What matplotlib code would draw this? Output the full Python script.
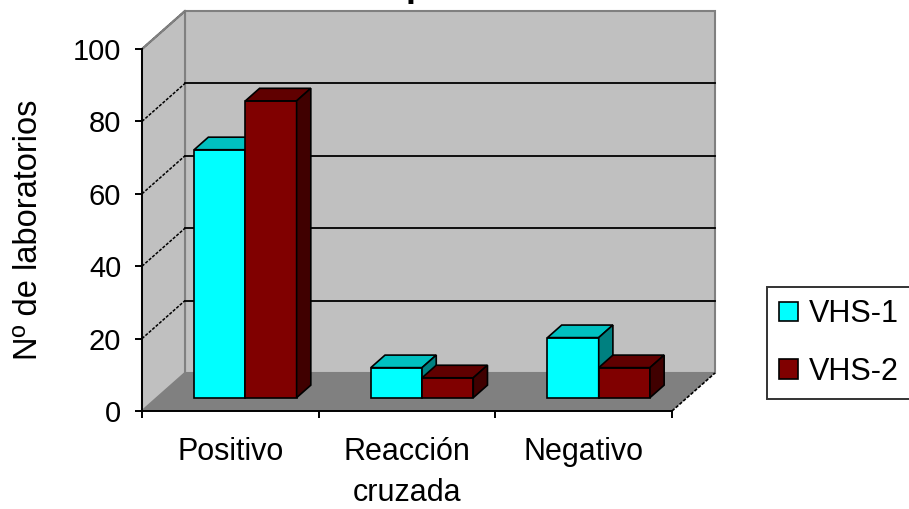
import numpy as np
import matplotlib
matplotlib.use("Agg")
import matplotlib.pyplot as plt
from matplotlib.patches import Polygon
from matplotlib import font_manager

# Data
categories = ["Positivo", "Reacción\ncruzada", "Negativo"]
series_names = ["VHS-1", "VHS-2"]
vhs1 = [68.5, 8.3, 16.6]
vhs2 = [82.0, 5.5, 8.3]
y_ticks = [0, 20, 40, 60, 80, 100]

# Excel-like 3D colours: front, top, side
FACES = {
    "VHS-1": ("#00FFFF", "#00C0C0", "#008080"),
    "VHS-2": ("#800000", "#600000", "#400000"),
}
WALL = "#C0C0C0"
FLOOR = "#808080"
EDGE = "#808080"

# Oblique depth offset (in data units) for one full unit of depth
DX, DY = 0.2434, 10.5
BAR_W = 0.29
BAR_D0, BAR_D1 = 0.35, 0.68

available = {f.name for f in font_manager.fontManager.ttflist}
FONT = ["Liberation Sans Narrow", "Liberation Sans", "DejaVu Sans"]
FONT = [f for f in FONT if f in available] or ["DejaVu Sans"]
plt.rcParams["font.family"] = FONT

W, H = 909, 509
fig = plt.figure(figsize=(W / 100, H / 100), dpi=100, facecolor="white")
# front plane: x 0..3 -> px 142..672, y 0..100 -> px 411..49
ax = fig.add_axes([142 / W, (H - 411) / H, 530 / W, 362 / H])
ax.set_xlim(0, 3)
ax.set_ylim(0, 100)
ax.patch.set_visible(False)

ncat = len(categories)
ymax = y_ticks[-1]


def poly(pts, fc, ec="none", lw=0.0, z=1):
    p = Polygon(pts, closed=True, facecolor=fc, edgecolor=ec, linewidth=lw,
                zorder=z, clip_on=False, joinstyle="miter")
    ax.add_patch(p)
    return p


# ─── walls and floor ───
poly([(DX, DY), (ncat + DX, DY), (ncat + DX, ymax + DY), (DX, ymax + DY)], WALL, EDGE, 1.5, z=0.5)
poly([(0, 0), (DX, DY), (DX, ymax + DY), (0, ymax)], WALL, EDGE, 1.5, z=0.5)
poly([(0, 0), (ncat, 0), (ncat + DX, DY), (DX, DY)], FLOOR, "none", 0, z=0.6)
ax.plot([ncat, ncat + DX], [0, DY], color="black", lw=1.2, ls=(0, (2, 1)), clip_on=False, zorder=0.7)

# gridlines: solid on back wall, dotted on side wall
for v in y_ticks[1:-1]:
    ax.plot([DX, ncat + DX], [v + DY, v + DY], color="black", lw=1.3, clip_on=False, zorder=0.8)
for v in y_ticks[1:]:
    ax.plot([0, DX], [v, v + DY], color="black", lw=1.1, ls=(0, (2, 1)), clip_on=False, zorder=0.8)
ax.plot([0, DX], [ymax, ymax + DY], color=EDGE, lw=1.5, clip_on=False, zorder=0.8)

# ─── 3D bars ───
fx0, fy0 = BAR_D0 * DX, BAR_D0 * DY
ddx, ddy = (BAR_D1 - BAR_D0) * DX, (BAR_D1 - BAR_D0) * DY
group_left = 0.5 - BAR_W
handles = []
z = 2
for c in range(ncat):
    for s, (name, vals) in enumerate(zip(series_names, [vhs1, vhs2])):
        front, top, side = FACES[name]
        h = vals[c]
        x0 = c + group_left + s * BAR_W + fx0
        x1 = x0 + BAR_W
        b = ax.bar(x0, h, width=BAR_W, bottom=fy0, align="edge", color=front,
                   edgecolor="black", linewidth=1.2, zorder=z, clip_on=False,
                   label=name if c == 0 else None)
        if c == 0:
            handles.append(b)
        y1 = fy0 + h
        poly([(x0, y1), (x1, y1), (x1 + ddx, y1 + ddy), (x0 + ddx, y1 + ddy)],
             top, "black", 1.2, z=z)
        poly([(x1, fy0), (x1 + ddx, fy0 + ddy), (x1 + ddx, y1 + ddy), (x1, y1)],
             side, "black", 1.2, z=z)
        z += 1

# ─── axes ───
for sp in ["top", "right"]:
    ax.spines[sp].set_visible(False)
for sp in ["left", "bottom"]:
    ax.spines[sp].set_color("black")
    ax.spines[sp].set_linewidth(1.4)
    ax.spines[sp].set_zorder(10)

ax.set_yticks(y_ticks)
ax.set_yticklabels([str(v) for v in y_ticks])
ax.tick_params(axis="y", length=5, width=1.4, pad=10, labelsize=21, colors="black")

ax.set_xticks(range(ncat + 1))
ax.set_xticklabels([])
ax.tick_params(axis="x", which="major", length=5, width=1.4, colors="black")
ax.set_xticks([c + 0.5 for c in range(ncat)], minor=True)
ax.set_xticklabels(categories, minor=True, fontsize=22, linespacing=1.45)
ax.tick_params(axis="x", which="minor", length=0, pad=19)

fig.text(29 / W, 1 - 230 / H, "Nº de laboratorios", rotation=90, ha="center",
         va="center", fontsize=23.5)

# clipped title above the plot
fig.text(406 / W, 1 + 4 / H, "p", fontsize=26, fontweight="bold", ha="left",
         va="baseline")

leg = fig.legend(handles=handles, labels=series_names, loc="upper left",
                 bbox_to_anchor=(767 / W, 1 - 287 / H), fontsize=22,
                 frameon=True, fancybox=False, edgecolor="black",
                 handlelength=0.62, handleheight=0.62, handletextpad=0.36,
                 borderpad=0.4, labelspacing=0.9, borderaxespad=0)
leg.get_frame().set_linewidth(1.4)

fig.savefig("out.png", dpi=100, facecolor="white")
